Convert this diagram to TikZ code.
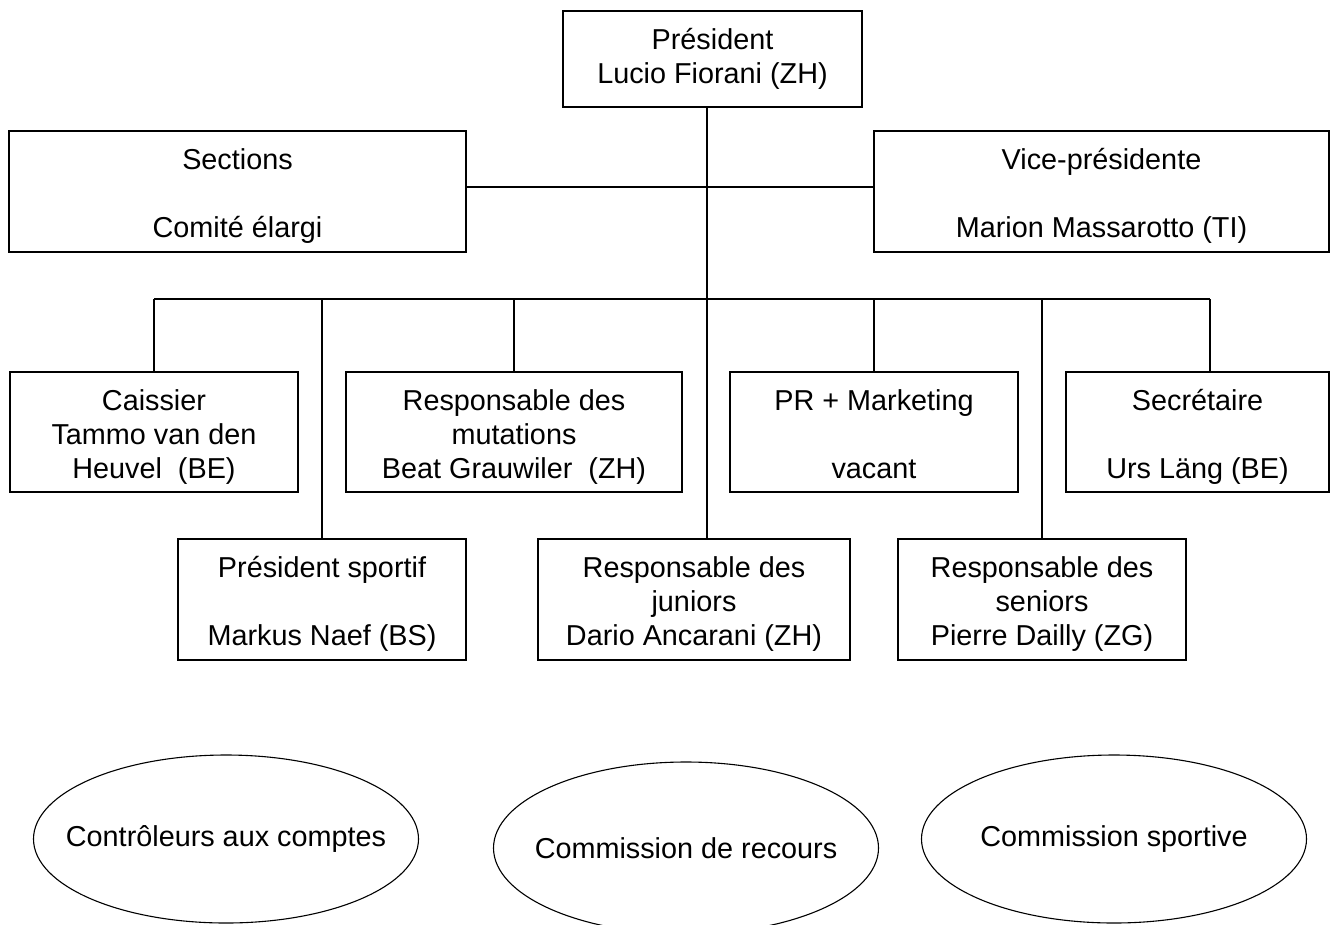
\documentclass[tikz,border=0pt]{standalone}
\usepackage{fontspec}
\setmainfont{Liberation Sans}
\usetikzlibrary{shapes.geometric}
\newcommand\tstr{\rule{0pt}{30pt}}
\tikzset{
  txt/.style={inner sep=0pt, align=center, font=\fontsize{28.8}{34}\selectfont},
  box/.style={draw, rectangle, line width=1.3pt, inner sep=0pt},
  boxtext/.style={label={[txt, anchor=north, yshift=-9pt]north:{\tstr #1}}},
  oval/.style={draw, ellipse, line width=1.1pt, inner sep=0pt},
  ovaltext/.style={label={[txt]center:{#1}}},
  conn/.style={line width=1.3pt}
}
\begin{document}
\begin{tikzpicture}[x=1pt, y=-1pt]
\useasboundingbox (0,0) rectangle (1332,924);
\clip (0,0) rectangle (1332,924);
\fill[white] (0,0) rectangle (1332,924);

% top level
\node[box, minimum width=299pt, minimum height=96pt, boxtext={Président\\Lucio Fiorani (ZH)}] (pres) at (712.5,59) {};
\node[box, minimum width=457pt, minimum height=121pt, boxtext={Sections\\[34pt]Comité élargi}] (sect) at (237.5,191.5) {};
\node[box, minimum width=455pt, minimum height=121pt, boxtext={Vice-présidente\\[34pt]Marion Massarotto (TI)}] (vice) at (1101.5,191.5) {};

% row 1
\node[box, minimum width=288pt, minimum height=120pt, boxtext={Caissier\\Tammo van den\\Heuvel\ \ (BE)}] (caiss) at (154,432) {};
\node[box, minimum width=336pt, minimum height=120pt, boxtext={Responsable des\\mutations\\Beat Grauwiler\ \ (ZH)}] (mut) at (514,432) {};
\node[box, minimum width=288pt, minimum height=120pt, boxtext={PR + Marketing\\[34pt]vacant}] (pr) at (874,432) {};
\node[box, minimum width=263pt, minimum height=120pt, boxtext={Secrétaire\\[34pt]Urs Läng (BE)}] (secr) at (1197.5,432) {};

% row 2
\node[box, minimum width=288pt, minimum height=121pt, boxtext={Président sportif\\[34pt]Markus Naef (BS)}] (spo) at (322,599.5) {};
\node[box, minimum width=312pt, minimum height=121pt, boxtext={Responsable des\\juniors\\Dario Ancarani (ZH)}] (jun) at (694,599.5) {};
\node[box, minimum width=288pt, minimum height=121pt, boxtext={Responsable des\\seniors\\Pierre Dailly (ZG)}] (sen) at (1042,599.5) {};

% commissions
\node[oval, minimum width=385pt, minimum height=168pt, ovaltext={Contrôleurs aux comptes}] (e1) at (226,839) {};
\node[oval, minimum width=385pt, minimum height=172pt, ovaltext={Commission de recours}] (e2) at (686,848) {};
\node[oval, minimum width=385pt, minimum height=168pt, ovaltext={Commission sportive}] (e3) at (1114,839) {};

% connectors
\coordinate (hl) at (707,187);
\coordinate (trunk) at (707,299);
\coordinate (secrdrop) at (1210,299);
\draw[conn] (sect.east |- hl) -- (vice.west |- hl);
\draw[conn] (pres.south -| trunk) -- (trunk);
\draw[conn] (caiss.north |- trunk) -- (secrdrop);
\draw[conn] (caiss.north |- trunk) -- (caiss.north);
\draw[conn] (spo.north |- trunk) -- (spo.north);
\draw[conn] (mut.north |- trunk) -- (mut.north);
\draw[conn] (trunk) -- (trunk |- jun.north);
\draw[conn] (pr.north |- trunk) -- (pr.north);
\draw[conn] (sen.north |- trunk) -- (sen.north);
\draw[conn] (secrdrop) -- (secrdrop |- secr.north);
\end{tikzpicture}
\end{document}
